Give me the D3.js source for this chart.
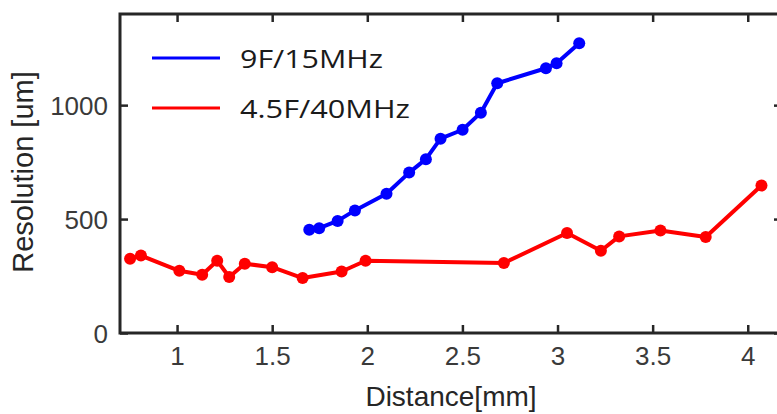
<!DOCTYPE html>
<html>
<head>
<meta charset="utf-8">
<script src="https://cdn.jsdelivr.net/npm/d3@7/dist/d3.min.js"></script>
<style>
  html, body { margin: 0; padding: 0; background: #fff; overflow: hidden; }
  svg { display: block; }
</style>
</head>
<body>
<svg id="chart" width="777" height="414"></svg>
<script>
// ---- Data ----
const seriesNames = ["9F/15MHz", "4.5F/40MHz"];
const seriesColors = ["#0000ff", "#ff0000"];

const blueX = [1.695, 1.747, 1.844, 1.935, 2.101, 2.220, 2.308, 2.385, 2.501, 2.597, 2.683, 2.939, 2.995, 3.114];
const blueY = [453, 460, 492, 538, 611, 704, 763, 853, 892, 967, 1096, 1162, 1184, 1272];

const redX = [0.753, 0.810, 1.012, 1.132, 1.211, 1.274, 1.356, 1.500, 1.660, 1.865, 1.991, 2.718, 3.050, 3.228, 3.324, 3.541, 3.779, 4.072];
const redY = [326, 340, 273, 256, 317, 246, 304, 289, 241, 270, 317, 307, 439, 361, 424, 450, 421, 647];

const xTicks = [1, 1.5, 2, 2.5, 3, 3.5, 4];
const xTickLabels = ["1", "1.5", "2", "2.5", "3", "3.5", "4"];
const yTicks = [0, 500, 1000];
const yTickLabels = ["0", "500", "1000"];
const xDomain = [0.7, 4.18];
const yDomain = [0, 1400];
const xLabel = "Distance[mm]";
const yLabel = "Resolution [um]";

// ---- Layout ----
const pLeft = 120, pTop = 14, pBottom = 333, pRight = 782;
const svg = d3.select("#chart");

const x = d3.scaleLinear().domain(xDomain).range([pLeft, pRight]);
const y = d3.scaleLinear().domain(yDomain).range([pBottom, pTop]);

const axisColor = "#262626";
const tickTextColor = "#3a3a3a";
const tickLen = 8;

// Axes (MATLAB box style, ticks inward)
const gBottom = svg.append("g").attr("transform", `translate(0,${pBottom})`)
  .call(d3.axisBottom(x).tickValues(xTicks).tickSizeInner(-tickLen).tickSizeOuter(0)
    .tickPadding(14).tickFormat((d, i) => xTickLabels[i]));
const gTop = svg.append("g").attr("transform", `translate(0,${pTop})`)
  .call(d3.axisTop(x).tickValues(xTicks).tickSizeInner(-tickLen).tickSizeOuter(0).tickFormat(""));
const gLeft = svg.append("g").attr("transform", `translate(${pLeft},0)`)
  .call(d3.axisLeft(y).tickValues(yTicks).tickSizeInner(-tickLen).tickSizeOuter(0)
    .tickPadding(12).tickFormat((d, i) => yTickLabels[i]));
const gRight = svg.append("g").attr("transform", `translate(${pRight},0)`)
  .call(d3.axisRight(y).tickValues(yTicks).tickSizeInner(-tickLen).tickSizeOuter(0).tickFormat(""));

[gBottom, gTop, gLeft, gRight].forEach(g => {
  g.select(".domain").remove();
  g.selectAll(".tick line").attr("stroke", axisColor).attr("stroke-width", 2.5);
  g.selectAll(".tick text").attr("fill", tickTextColor)
    .attr("font-family", "Liberation Sans, Arial, sans-serif").attr("font-size", 26);
});
gLeft.selectAll(".tick text").attr("dy", "0.36em");

// Box frame
svg.append("rect")
  .attr("x", pLeft).attr("y", pTop)
  .attr("width", pRight - pLeft).attr("height", pBottom - pTop)
  .attr("fill", "none").attr("stroke", axisColor).attr("stroke-width", 3);

// Series
const series = [
  { xs: blueX, ys: blueY, color: seriesColors[0] },
  { xs: redX, ys: redY, color: seriesColors[1] }
];
const line = d3.line().x(d => x(d[0])).y(d => y(d[1]));
series.forEach(s => {
  const pts = s.xs.map((v, i) => [v, s.ys[i]]);
  svg.append("path").datum(pts)
    .attr("d", line).attr("fill", "none")
    .attr("stroke", s.color).attr("stroke-width", 4)
    .attr("stroke-linejoin", "round");
  svg.append("g").selectAll("circle").data(pts).join("circle")
    .attr("cx", d => x(d[0])).attr("cy", d => y(d[1]))
    .attr("r", 6).attr("fill", s.color);
});

// Legend
const legendY = [58, 108];
const legendWidths = [143, 170];
seriesNames.forEach((name, i) => {
  svg.append("line")
    .attr("x1", 152).attr("x2", 220)
    .attr("y1", legendY[i]).attr("y2", legendY[i])
    .attr("stroke", seriesColors[i]).attr("stroke-width", 3);
  svg.append("text")
    .attr("x", 240).attr("y", legendY[i] + 10)
    .attr("font-family", "Open Sans, sans-serif").attr("font-size", 26)
    .attr("fill", "#1a1a1a")
    .attr("textLength", legendWidths[i]).attr("lengthAdjust", "spacingAndGlyphs")
    .text(name);
});

// Axis labels
svg.append("text")
  .attr("x", 451).attr("y", 406)
  .attr("text-anchor", "middle")
  .attr("font-family", "Liberation Sans, Arial, sans-serif").attr("font-size", 28)
  .attr("fill", "#262626")
  .text(xLabel);
svg.append("text")
  .attr("transform", `translate(33,172) rotate(-90)`)
  .attr("text-anchor", "middle")
  .attr("font-family", "Liberation Sans, Arial, sans-serif").attr("font-size", 29)
  .attr("fill", "#262626")
  .text(yLabel);
</script>
</body>
</html>
